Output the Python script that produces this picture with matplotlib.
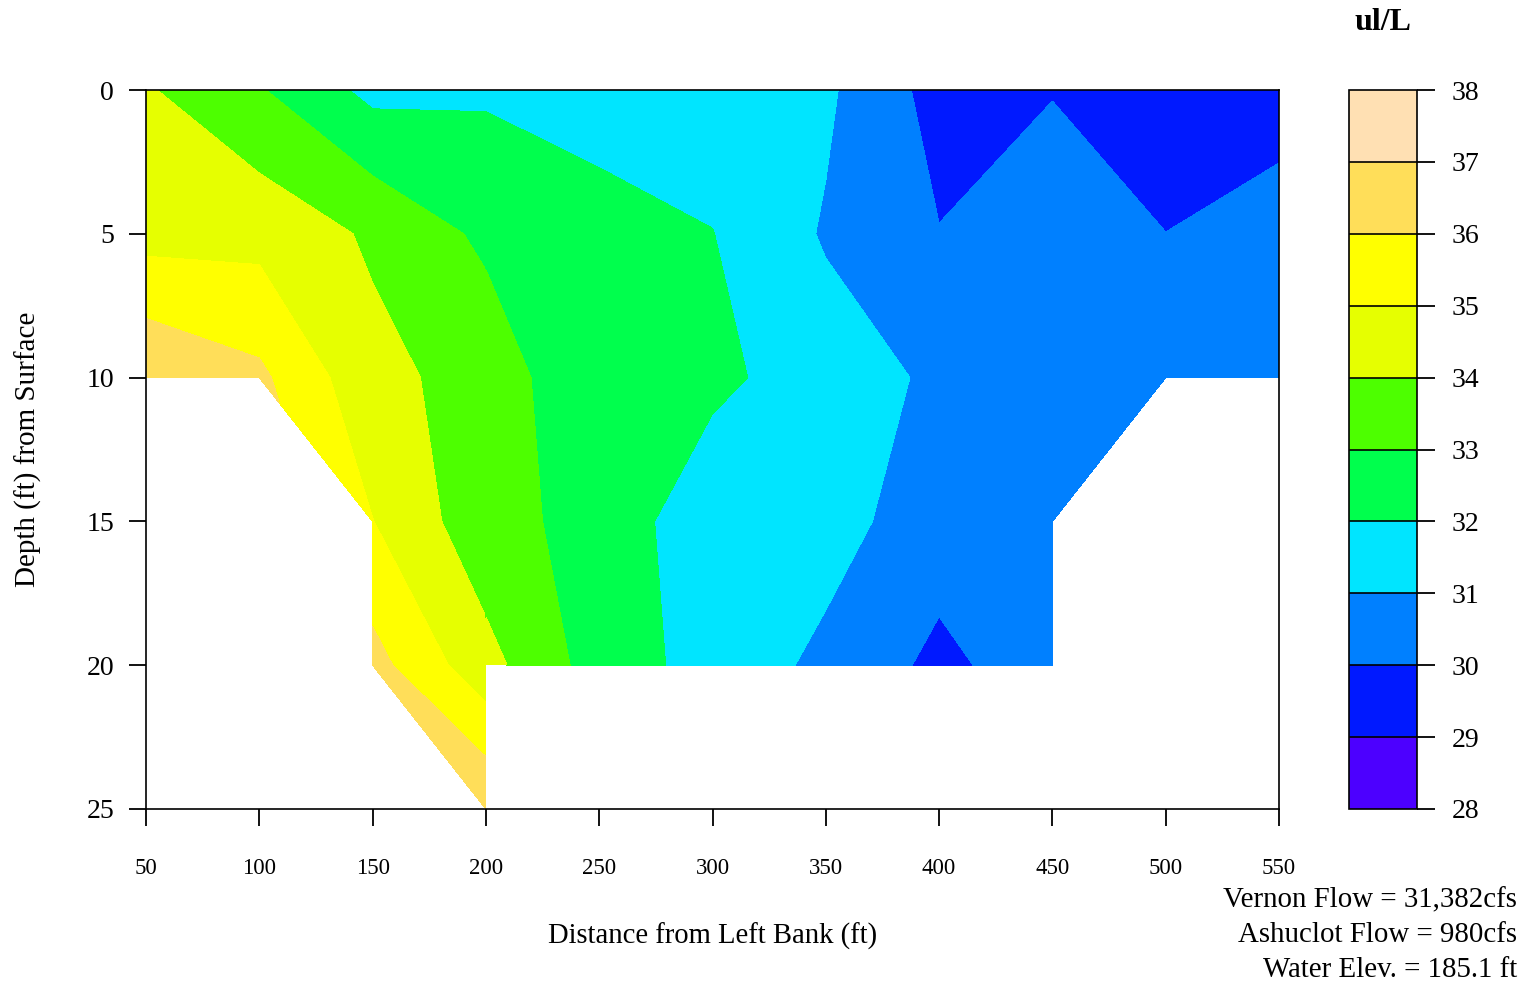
import numpy as np
import matplotlib.pyplot as plt

plt.rcParams.update({
    "font.family": "serif",
    "font.serif": ["Liberation Serif", "DejaVu Serif"],
    "axes.linewidth": 1.2,
})

nan = np.nan

# Cross-section grid: distance from left bank (ft) x depth from surface (ft)
distance = [50, 100, 150, 200, 250, 300, 350, 400, 450, 500, 550]
depth = [0, 5, 10, 15, 20, 25]

# Concentration (ul/L) per depth row, NaN = below river bed
conc_0ft = [34.10, 33.08, 31.72, 31.86, 31.53, 31.50, 31.17, 29.62, 29.95, 29.20, 29.69]
conc_5ft = [34.64, 34.67, 33.86, 32.79, 32.40, 32.02, 30.90, 30.03, 30.60, 30.01, 30.30]
conc_10ft = [36.95, 36.21, 34.27, 33.63, 32.05, 32.23, 31.49, 30.83, 30.60, 30.40, 30.30]
conc_15ft = [nan, nan, 35.02, 33.35, 32.65, 31.32, 31.37, 30.47, 30.50, nan, nan]
conc_20ft = [nan, nan, 36.36, 34.33, 32.54, 31.62, 30.77, 29.76, 30.56, nan, nan]
conc_25ft = [nan, nan, nan, 36.95, nan, nan, nan, nan, nan, nan, nan]

levels = list(range(28, 39))
# R topo.colors(10)
topo_colors = ["#4C00FF", "#0019FF", "#0080FF", "#00E5FF", "#00FF4D",
               "#4DFF00", "#E6FF00", "#FFFF00", "#FFDE59", "#FFE0B3"]

notes = ["Vernon Flow = 31,382cfs", "Ashuclot Flow = 980cfs", "Water Elev. = 185.1 ft"]

Z = np.ma.masked_invalid(np.array([conc_0ft, conc_5ft, conc_10ft,
                                   conc_15ft, conc_20ft, conc_25ft]))
X, Y = np.meshgrid(distance, depth)

W, H = 1530, 986
fig = plt.figure(figsize=(W / 100, H / 100), dpi=100)
ax = fig.add_axes([146 / W, 1 - 809 / H, (1279 - 146) / W, (809 - 90) / H])

# the deep sounding at 200 ft only belongs to the left-hand slope, so the
# section is contoured in two pieces sharing the 200 ft column
k = distance.index(200)
Z_right = Z.copy()
Z_right[-1, k] = np.ma.masked
cf = ax.contourf(X[:, :k + 1], Y[:, :k + 1], Z[:, :k + 1],
                 levels=levels, colors=topo_colors)
ax.contourf(X[:, k:], Y[:, k:], Z_right[:, k:],
            levels=levels, colors=topo_colors)

ax.set_xlim(50, 550)
ax.set_ylim(25, 0)
ax.set_xticks(distance)
ax.set_yticks([0, 5, 10, 15, 20, 25])
ax.tick_params(axis="x", direction="out", length=12, width=1.3, pad=23, labelsize=16.5)
ax.tick_params(axis="y", direction="out", length=12, width=1.3, pad=11, labelsize=20)
ax.set_xlabel("Distance from Left Bank (ft)", fontsize=20.6, labelpad=32)
ax.set_ylabel("Depth (ft) from Surface", fontsize=21, labelpad=32)

# colour key
cax = fig.add_axes([1349 / W, 1 - 809 / H, (1417 - 1349) / W, (809 - 90) / H])
cb = fig.colorbar(cf, cax=cax, drawedges=True)
cb.set_ticks(levels)
cb.ax.tick_params(direction="out", length=13, width=1.3, pad=12, labelsize=20)
cb.outline.set_linewidth(1.2)
cb.dividers.set_linewidth(1.2)
fig.text(1383 / W, 1 - 22 / H, "ul/L", ha="center", va="center",
         fontsize=23, fontweight="bold")

for i, line in enumerate(notes):
    fig.text(1517 / W, 1 - (900 + 35 * i) / H, line, ha="right", va="center",
             fontsize=20.8)

fig.savefig("out.png", dpi=100)
